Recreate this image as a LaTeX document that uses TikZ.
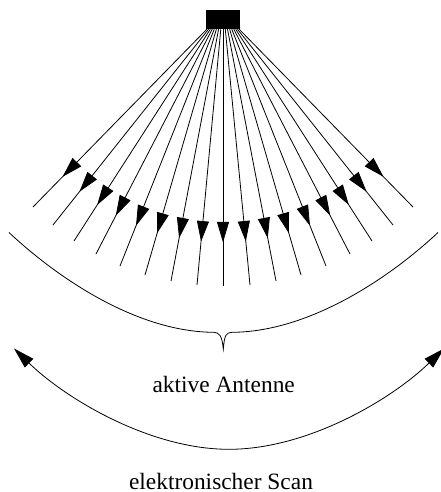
\documentclass[tikz,border=0pt]{standalone}
\usepackage{fontspec}
\setmainfont{Liberation Serif}
\usetikzlibrary{arrows.meta,decorations.markings,calc}
\tikzset{
  ln/.style={line width=0.8pt,black},
  ray/.style={ln,postaction={decorate},decoration={markings,mark=at position 0.83 with {\arrow{Triangle[length=20.5pt,width=12pt]}}}},
  lab/.style={font=\fontsize{23.4pt}{25pt}\selectfont,inner sep=0pt,anchor=base},
  src/.style={fill=black,draw=none,inner sep=0pt,minimum width=34pt,minimum height=19pt}
}
\begin{document}
\begin{tikzpicture}[x=1pt,y=-1pt]
\useasboundingbox (0,0) rectangle (441,492);
\node[src] (source) at (223,19.5) {};
\foreach \n/\ex/\ey in {1/33/207,2/53/225,3/74/241,4/96/254,5/120/266,6/145/275,7/171/281,8/197/285,9/223/286,10/250/285,11/276/281,12/301/275,13/326/266,14/350/254,15/372/241,16/393/225,17/413/207}{
  \pgfmathsetmacro{\sx}{(\ex-223)*0.085}
  \coordinate (e\n) at (\ex,\ey);
  \coordinate (s\n) at ($(source.south)+(\sx pt,0pt)$);
  \draw[ray] (s\n) -- (e\n);
}
% antenna arc with brace
\coordinate (aL) at (9,232.5);
\coordinate (aR) at (438,232.5);
\coordinate (bL) at (214,332.3);
\coordinate (bR) at (232,332.3);
\coordinate (bT) at (223.3,349);
\draw[ln] (aL) .. controls (62,282) and (140,332) .. (bL)
  .. controls (219,332.8) and (222,335) .. (bT)
  .. controls (224.5,335) and (226,332.6) .. (bR)
  .. controls (306,332) and (385,282) .. (aR);
% scan arc
\coordinate (sL) at (14,348.5);
\coordinate (sM) at (229,449.3);
\coordinate (sR) at (444,348.5);
\draw[ln,{Triangle[length=21pt,width=12pt]}-{Triangle[length=21pt,width=12pt]}]
  (sL) .. controls (66,399) and (150,449.3) .. (sM)
  .. controls (308,449.3) and (392,399) .. (sR);
\node[lab] (active) at (223.7,392) {aktive Antenne};
\node[lab] (scan) at (221,489) {elektronischer Scan};
\end{tikzpicture}
\end{document}
